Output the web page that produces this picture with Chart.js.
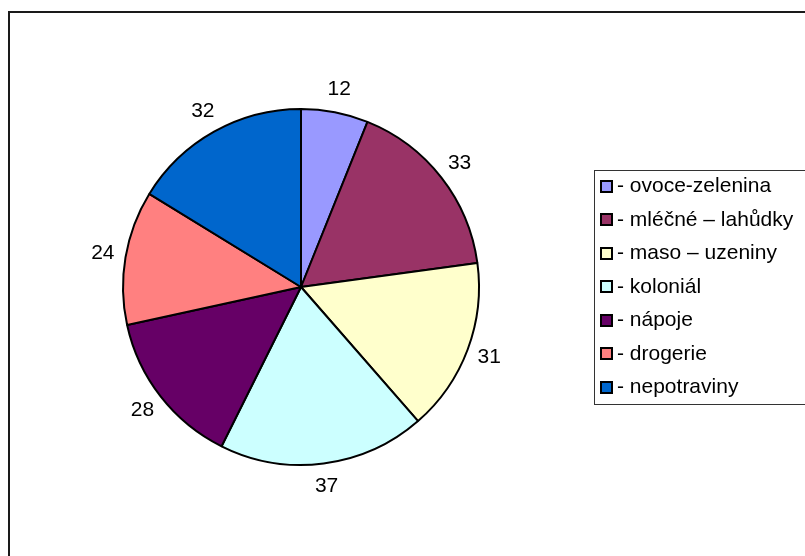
<!DOCTYPE html>
<html>
<head>
<meta charset="utf-8">
<script src="https://cdn.jsdelivr.net/npm/chart.js@4"></script>
<style>
  html, body { margin: 0; padding: 0; background: #fff; }
  canvas { display: block; }
</style>
</head>
<body>
<canvas id="c" width="805" height="556"></canvas>
<script>
// Sales share by department
const categories = ['ovoce-zelenina', 'mléčné – lahůdky', 'maso – uzeniny', 'koloniál', 'nápoje', 'drogerie', 'nepotraviny'];
const values = [12, 33, 31, 37, 28, 24, 32];
const colors = ['#9999FF', '#993366', '#FFFFCC', '#CCFFFF', '#660066', '#FF8080', '#0066CC'];

const FONT = '21px "Liberation Sans", Arial, sans-serif';

// Outer frame of the chart sheet
const framePlugin = {
  id: 'frame',
  beforeDraw(chart) {
    const ctx = chart.ctx;
    ctx.save();
    ctx.fillStyle = '#fff';
    ctx.fillRect(0, 0, chart.width, chart.height);
    ctx.strokeStyle = '#1a1a1a';
    ctx.lineWidth = 2;
    ctx.strokeRect(9, 12, chart.width + 20, chart.height + 20);
    ctx.restore();
  }
};

// Value labels placed outside each slice
const valueLabels = {
  id: 'valueLabels',
  afterDatasetsDraw(chart) {
    const ctx = chart.ctx;
    const meta = chart.getDatasetMeta(0);
    ctx.save();
    ctx.font = FONT;
    ctx.fillStyle = '#000';
    ctx.textAlign = 'center';
    ctx.textBaseline = 'middle';
    meta.data.forEach((arc, i) => {
      const p = arc.getProps(['x', 'y', 'startAngle', 'endAngle', 'outerRadius'], true);
      const mid = (p.startAngle + p.endAngle) / 2;
      const r = p.outerRadius + 23;
      ctx.fillText(String(values[i]), p.x + Math.cos(mid) * r, p.y + Math.sin(mid) * r);
    });
    ctx.restore();
  }
};

// Legend box on the right
const boxLegend = {
  id: 'boxLegend',
  afterDraw(chart) {
    const ctx = chart.ctx;
    const left = 594, top = 170, bottom = 404;
    ctx.save();
    ctx.strokeStyle = '#333';
    ctx.lineWidth = 1;
    ctx.strokeRect(left + 0.5, top + 0.5, chart.width, bottom - top);
    ctx.font = FONT;
    ctx.textBaseline = 'middle';
    ctx.textAlign = 'left';
    const step = 33.5;
    categories.forEach((name, i) => {
      const cy = 186.5 + i * step;
      ctx.fillStyle = colors[i];
      ctx.fillRect(601, Math.round(cy) - 6, 11, 11);
      ctx.strokeStyle = '#000';
      ctx.lineWidth = 2;
      ctx.strokeRect(601, Math.round(cy) - 6, 11, 11);
      ctx.fillStyle = '#000';
      ctx.fillText('- ' + name, 617, cy);
    });
    ctx.restore();
  }
};

new Chart(document.getElementById('c'), {
  type: 'pie',
  data: {
    labels: categories,
    datasets: [{
      data: values,
      backgroundColor: colors,
      borderColor: '#000',
      borderWidth: 2,
      borderAlign: 'center'
    }]
  },
  options: {
    responsive: false,
    animation: false,
    radius: 178,
    layout: { padding: { left: 123, right: 326, top: 109, bottom: 91 } },
    plugins: {
      legend: { display: false },
      tooltip: { enabled: false }
    }
  },
  plugins: [framePlugin, valueLabels, boxLegend]
});
</script>
</body>
</html>
